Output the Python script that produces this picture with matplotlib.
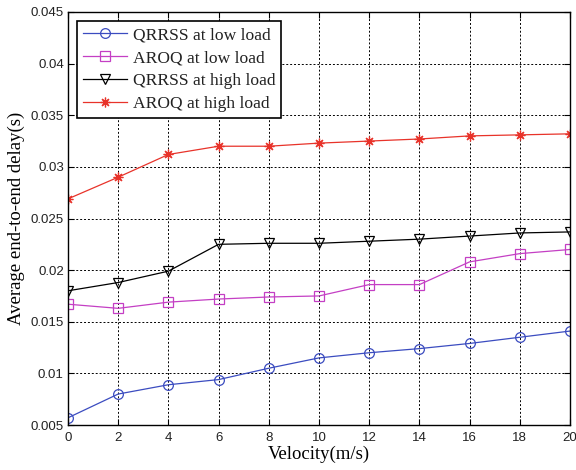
import numpy as np
import matplotlib.pyplot as plt

# ---------------------------------------------------------
# Datos
# ---------------------------------------------------------
velocity = [0, 2, 4, 6, 8, 10, 12, 14, 16, 18, 20]

qrrss_low = [0.0057, 0.0080, 0.0089, 0.0094, 0.0105, 0.0115, 0.0120, 0.0124, 0.0129, 0.0135, 0.0141]
aroq_low = [0.0167, 0.0163, 0.0169, 0.0172, 0.0174, 0.0175, 0.0186, 0.0186, 0.0208, 0.0216, 0.0220]
qrrss_high = [0.0180, 0.0188, 0.0199, 0.0225, 0.0226, 0.0226, 0.0228, 0.0230, 0.0233, 0.0236, 0.0237]
aroq_high = [0.0269, 0.0290, 0.0312, 0.0320, 0.0320, 0.0323, 0.0325, 0.0327, 0.0330, 0.0331, 0.0332]

labels = ["QRRSS at low load", "AROQ at low load", "QRRSS at high load", "AROQ at high load"]
y_ticks = [0.005, 0.01, 0.015, 0.02, 0.025, 0.03, 0.035, 0.04, 0.045]
y_tick_labels = ["0.005", "0.01", "0.015", "0.02", "0.025", "0.03", "0.035", "0.04", "0.045"]

# ---------------------------------------------------------
# Figura
# ---------------------------------------------------------
fig = plt.figure(figsize=(5.76, 4.70), dpi=100)
ax = fig.add_axes([0.118, 0.0957, 0.8716, 0.8788])

styles = [
    dict(color="#3b4cc0", marker="o"),
    dict(color="#c43fc4", marker="s"),
    dict(color="black", marker="v"),
    dict(color="#e8332a", marker=(8, 2, 0)),
]
for series, lab, st in zip([qrrss_low, aroq_low, qrrss_high, aroq_high], labels, styles):
    ax.plot(velocity, series, color=st["color"], marker=st["marker"], markersize=7,
            markerfacecolor="none", markeredgecolor=st["color"], markeredgewidth=0.9,
            linewidth=0.9, label=lab)

ax.set_xlim(0, 20)
ax.set_ylim(0.005, 0.045)
ax.set_xticks(velocity)
ax.set_yticks(y_ticks)
ax.set_yticklabels(y_tick_labels)
ax.tick_params(direction="in", top=True, right=True, labelsize=9.5, length=4, width=0.8)
ax.tick_params(axis="x", pad=5)
ax.tick_params(axis="y", pad=3)
for lbl in ax.get_xticklabels() + ax.get_yticklabels():
    lbl.set_family("Liberation Sans")
    lbl.set_color("#222222")

ax.grid(True, color="black", linestyle=(0, (2, 2)), linewidth=0.7)
for sp in ax.spines.values():
    sp.set_linewidth(1.0)

ax.set_xlabel("Velocity(m/s)", family="Liberation Serif", fontsize=13.5, labelpad=1)
ax.set_ylabel("Average end-to-end delay(s)", family="Liberation Serif", fontsize=13.5, labelpad=4)

leg = ax.legend(loc="upper left", prop={"family": "Liberation Serif", "size": 12.6},
                fancybox=False, edgecolor="black", framealpha=1, borderaxespad=0.5,
                handlelength=2.5, labelspacing=0.38, borderpad=0.35, handletextpad=0.35)
leg.get_frame().set_linewidth(1.2)
for t in leg.get_texts():
    t.set_color("#222222")

plt.savefig("out.png", dpi=100)
